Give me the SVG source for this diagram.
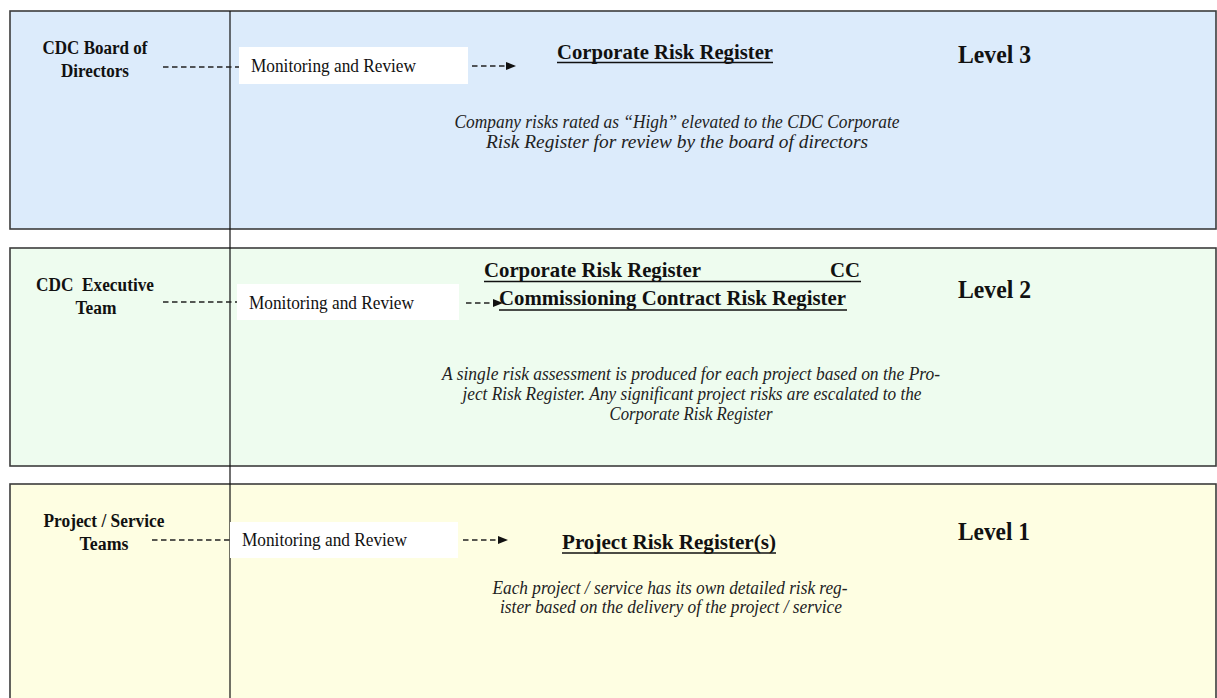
<svg xmlns="http://www.w3.org/2000/svg" width="1217" height="698" viewBox="0 0 1217 698">
  <style>
    .panel { stroke: #3c3c3c; stroke-width: 1.6; }
    text { font-family: "Liberation Serif", "Times New Roman", serif; fill: #111; }
    .lbl { font-size: 18.6px; font-weight: bold; text-anchor: middle; }
    .mr { font-size: 18.8px; }
    .head { font-size: 22px; font-weight: bold; }
    .lvl { font-size: 25.5px; font-weight: bold; }
    .desc { font-size: 18.6px; font-style: italic; fill: #222; text-anchor: middle; }
    .box { fill: #ffffff; }
    .ul { stroke: #111; stroke-width: 1.6; }
    .dash { stroke: #222; stroke-width: 1.3; stroke-dasharray: 5.5 3.5; fill: none; }
  </style>
  <defs>
    <marker id="arrow" markerWidth="10" markerHeight="8" refX="9" refY="4" orient="auto" markerUnits="userSpaceOnUse">
      <path d="M0,0 L10,4 L0,8 Z" fill="#111"/>
    </marker>
  </defs>

  <rect width="1217" height="698" fill="#ffffff"/>

  <!-- Level 3 panel -->
  <g id="level3">
    <rect class="panel" x="10" y="11" width="1206" height="218" fill="#dcebfb"/>
  </g>
  <!-- Level 2 panel -->
  <g id="level2">
    <rect class="panel" x="10" y="248" width="1206" height="218" fill="#eefcef"/>
  </g>
  <!-- Level 1 panel -->
  <g id="level1">
    <rect class="panel" x="10" y="484" width="1206" height="230" fill="#fefee2"/>
  </g>

  <!-- vertical divider -->
  <line x1="230" y1="11" x2="230" y2="698" stroke="#111" stroke-width="1.2"/>

  <!-- Level 3 contents -->
  <g id="board">
    <text class="lbl" x="95" y="54" textLength="105" lengthAdjust="spacingAndGlyphs">CDC Board of</text>
    <text class="lbl" x="95" y="77" textLength="68" lengthAdjust="spacingAndGlyphs">Directors</text>
  </g>
  <g id="review3">
    <rect class="box" x="239" y="47" width="229" height="37"/>
    <text class="mr" x="251" y="72" textLength="165" lengthAdjust="spacingAndGlyphs">Monitoring and Review</text>
  </g>
  <g id="corporate3">
    <text class="head" x="557" y="59" textLength="216" lengthAdjust="spacingAndGlyphs">Corporate Risk Register</text>
    <line class="ul" x1="557" y1="62.5" x2="773" y2="62.5"/>
  </g>
  <g id="level3label">
    <text class="lvl" x="958" y="63" textLength="73" lengthAdjust="spacingAndGlyphs">Level 3</text>
  </g>
  <g id="desc3">
    <text class="desc" x="677" y="128" textLength="445" lengthAdjust="spacingAndGlyphs">Company risks rated as “High” elevated to the CDC Corporate</text>
    <text class="desc" x="677" y="148" textLength="382" lengthAdjust="spacingAndGlyphs">Risk Register for review by the board of directors</text>
  </g>

  <!-- Level 2 contents -->
  <g id="exec">
    <text class="lbl" x="95" y="291" textLength="118" lengthAdjust="spacingAndGlyphs" style="white-space:pre">CDC  Executive</text>
    <text class="lbl" x="96" y="314" textLength="41" lengthAdjust="spacingAndGlyphs">Team</text>
  </g>
  <g id="review2">
    <rect class="box" x="237" y="284" width="222" height="36"/>
    <text class="mr" x="249" y="309" textLength="165" lengthAdjust="spacingAndGlyphs">Monitoring and Review</text>
  </g>
  <g id="corporate2">
    <text class="head" x="484" y="277" textLength="217" lengthAdjust="spacingAndGlyphs">Corporate Risk Register</text>
    <text class="head" x="830" y="277" textLength="30" lengthAdjust="spacingAndGlyphs">CC</text>
    <line class="ul" x1="484" y1="281.5" x2="861" y2="281.5"/>
    <text class="head" x="499" y="305" textLength="347" lengthAdjust="spacingAndGlyphs">Commissioning Contract Risk Register</text>
    <line class="ul" x1="499" y1="310" x2="847" y2="310"/>
  </g>
  <g id="level2label">
    <text class="lvl" x="958" y="298" textLength="73" lengthAdjust="spacingAndGlyphs">Level 2</text>
  </g>
  <g id="desc2">
    <text class="desc" x="691" y="380" textLength="498" lengthAdjust="spacingAndGlyphs">A single risk assessment is produced for each project based on the Pro-</text>
    <text class="desc" x="692" y="400" textLength="459" lengthAdjust="spacingAndGlyphs">ject Risk Register. Any significant project risks are escalated to the</text>
    <text class="desc" x="691" y="420" textLength="163" lengthAdjust="spacingAndGlyphs">Corporate Risk Register</text>
  </g>

  <!-- Level 1 contents -->
  <g id="teams">
    <text class="lbl" x="104" y="527" textLength="121" lengthAdjust="spacingAndGlyphs">Project / Service</text>
    <text class="lbl" x="104" y="550" textLength="49" lengthAdjust="spacingAndGlyphs">Teams</text>
  </g>
  <g id="review1">
    <rect class="box" x="230" y="522" width="228" height="36"/>
    <text class="mr" x="242" y="546" textLength="165" lengthAdjust="spacingAndGlyphs">Monitoring and Review</text>
  </g>
  <g id="project1">
    <text class="head" x="562" y="549" textLength="214" lengthAdjust="spacingAndGlyphs">Project Risk Register(s)</text>
    <line class="ul" x1="562" y1="553" x2="776" y2="553"/>
  </g>
  <g id="level1label">
    <text class="lvl" x="958" y="540" textLength="72" lengthAdjust="spacingAndGlyphs">Level 1</text>
  </g>
  <g id="desc1">
    <text class="desc" x="670" y="594" textLength="355" lengthAdjust="spacingAndGlyphs">Each project / service has its own detailed risk reg-</text>
    <text class="desc" x="671" y="613" textLength="342" lengthAdjust="spacingAndGlyphs">ister based on the delivery of the project / service</text>
  </g>

  <!-- connectors -->
  <g id="connectors">
    <line class="dash" x1="163" y1="67" x2="239" y2="67"/>
    <line class="dash" x1="472" y1="66" x2="515" y2="66" marker-end="url(#arrow)"/>
    <line class="dash" x1="163" y1="302" x2="237" y2="302"/>
    <line class="dash" x1="466" y1="303" x2="502" y2="303" marker-end="url(#arrow)"/>
    <line class="dash" x1="152" y1="540" x2="230" y2="540"/>
    <line class="dash" x1="463" y1="540" x2="507" y2="540" marker-end="url(#arrow)"/>
  </g>
</svg>
